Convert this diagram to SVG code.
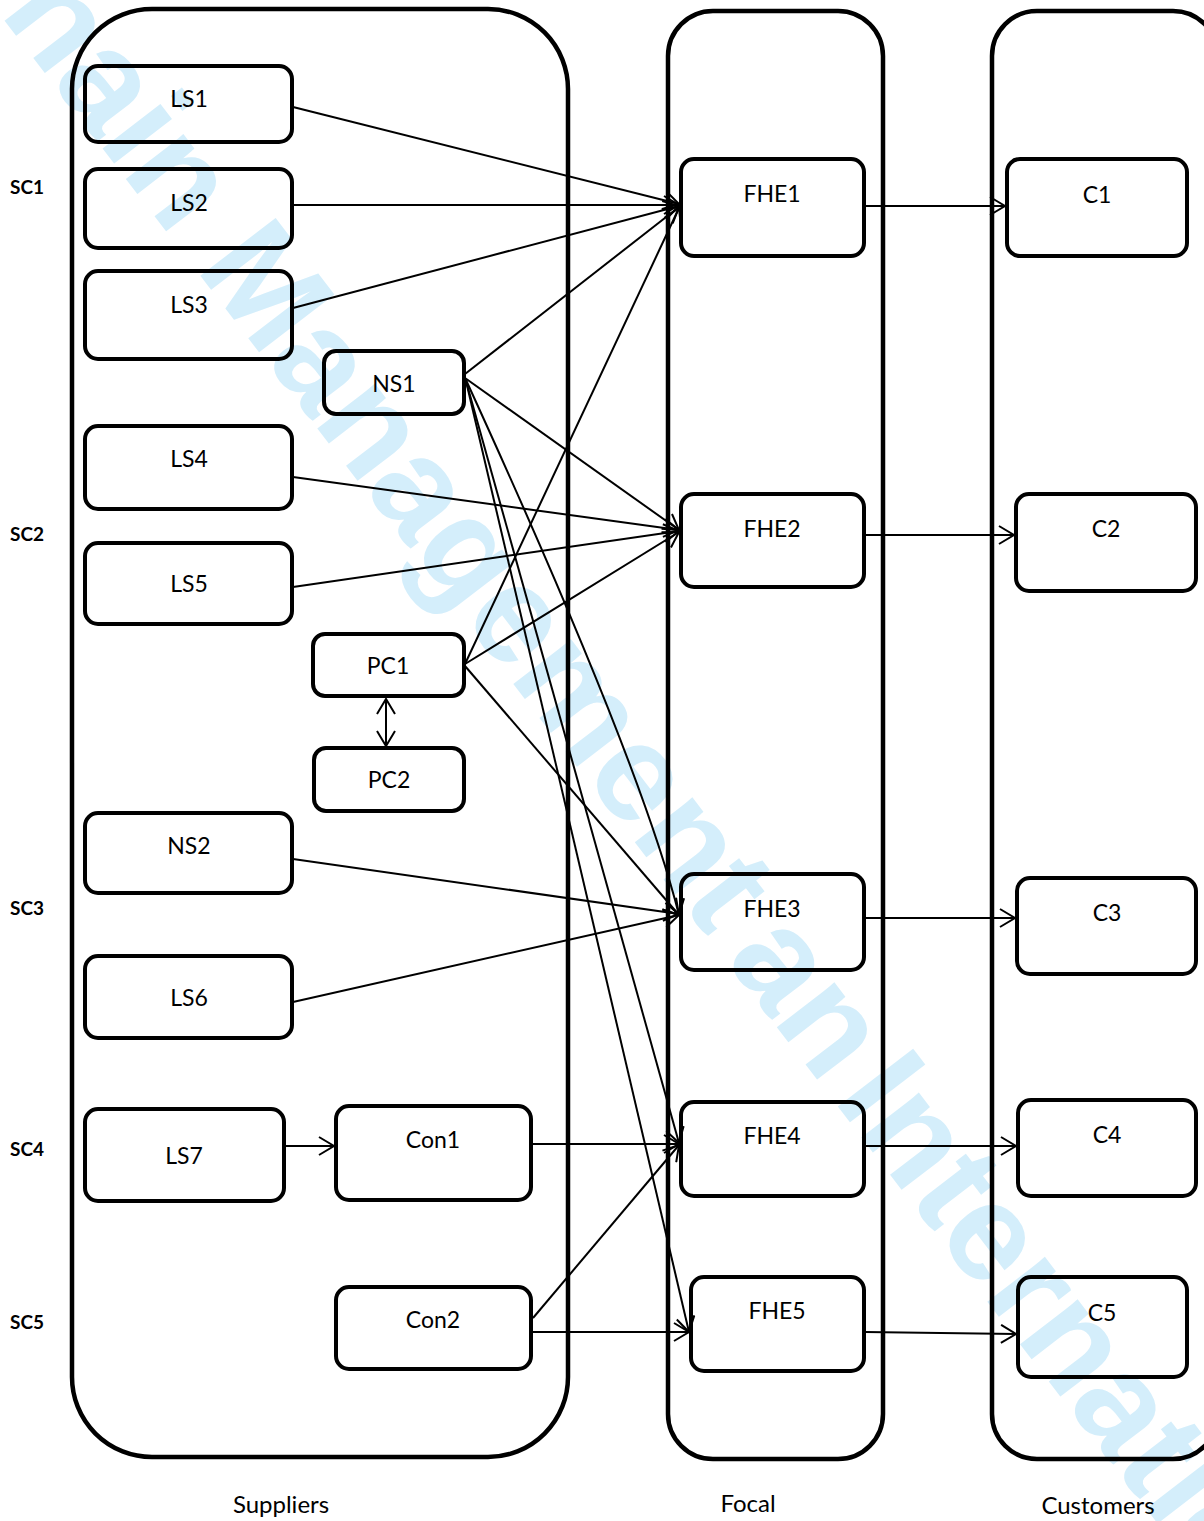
<svg xmlns="http://www.w3.org/2000/svg" width="1204" height="1521" viewBox="0 0 1204 1521">
<style>
.wm{font-family:"Liberation Sans",Arial,sans-serif;font-weight:bold;font-size:138px;fill:#d4eefb}
.cont{fill:none;stroke:#000;stroke-width:4.5}
.box{fill:none;stroke:#000;stroke-width:4}
.lbl{font-family:Lato,"Open Sans",sans-serif;font-size:23px;fill:#000;text-anchor:middle}
.sc{font-family:Lato,"Open Sans",sans-serif;font-size:19px;font-weight:bold;fill:#000}
.ttl{font-family:Lato,"Open Sans",sans-serif;font-size:24px;fill:#000;text-anchor:middle}
.ln{fill:none;stroke:#000;stroke-width:2;marker-end:url(#arr)}
</style>
<defs>
<marker id="arr" viewBox="0 0 18 20" refX="16" refY="10" markerWidth="18" markerHeight="20" markerUnits="userSpaceOnUse" orient="auto-start-reverse">
<path d="M1,1 L16,10 L1,19" fill="none" stroke="#000" stroke-width="2"/>
</marker>
</defs>
<rect width="1204" height="1521" fill="#fff"/>
<g id="watermark">
<text class="wm" transform="translate(-62,-66) rotate(52.5)">Chain Management<tspan dx="-12"> an</tspan><tspan dx="-22"> International</tspan></text>
</g>
<g id="containers">
<rect id="suppliers" class="cont" x="72" y="9" width="496" height="1448" rx="80" ry="80"/>
<rect id="focal" class="cont" x="668" y="11" width="215" height="1448" rx="45" ry="45"/>
<rect id="customers" class="cont" x="992" y="11" width="226" height="1448" rx="45" ry="45"/>
</g>
<g id="connectors">
<line class="ln" x1="293" y1="107" x2="679" y2="204"/>
<line class="ln" x1="293" y1="205" x2="679" y2="205"/>
<line class="ln" x1="293" y1="308" x2="679" y2="206"/>
<line class="ln" x1="465" y1="374" x2="679" y2="207"/>
<line class="ln" x1="465" y1="664" x2="679" y2="208"/>
<line class="ln" x1="465" y1="378" x2="679" y2="530"/>
<line class="ln" x1="293" y1="477" x2="679" y2="530"/>
<line class="ln" x1="293" y1="587" x2="679" y2="531"/>
<line class="ln" x1="465" y1="664" x2="679" y2="532"/>
<path class="ln" d="M466,380 Q640,760 679,915"/>
<line class="ln" x1="465" y1="666" x2="679" y2="915"/>
<line class="ln" x1="293" y1="859" x2="679" y2="914"/>
<line class="ln" x1="293" y1="1002" x2="679" y2="915"/>
<line class="ln" x1="466" y1="381" x2="679" y2="1143"/>
<line class="ln" x1="532" y1="1144" x2="679" y2="1144"/>
<line class="ln" x1="533" y1="1318" x2="679" y2="1145"/>
<line class="ln" x1="466" y1="381" x2="689" y2="1332"/>
<line class="ln" x1="533" y1="1332" x2="689" y2="1332"/>
<line class="ln" x1="285" y1="1146" x2="334" y2="1146"/>
<line class="ln" x1="865" y1="206" x2="1005" y2="206"/>
<line class="ln" x1="865" y1="535" x2="1014" y2="535"/>
<line class="ln" x1="865" y1="918" x2="1015" y2="918"/>
<line class="ln" x1="865" y1="1146" x2="1016" y2="1146"/>
<line class="ln" x1="865" y1="1332" x2="1016" y2="1334"/>
<line class="ln" style="marker-start:url(#arr)" x1="386" y1="699" x2="386" y2="746"/>
</g>
<g id="LS1"><rect class="box" x="85" y="66" width="207" height="76" rx="13"/><text class="lbl" x="189" y="107">LS1</text></g>
<g id="LS2"><rect class="box" x="85" y="169" width="207" height="79" rx="13"/><text class="lbl" x="189" y="211">LS2</text></g>
<g id="LS3"><rect class="box" x="85" y="271" width="207" height="88" rx="13"/><text class="lbl" x="189" y="313">LS3</text></g>
<g id="NS1"><rect class="box" x="324" y="351" width="140" height="63" rx="12"/><text class="lbl" x="394" y="392">NS1</text></g>
<g id="LS4"><rect class="box" x="85" y="426" width="207" height="83" rx="13"/><text class="lbl" x="189" y="467">LS4</text></g>
<g id="LS5"><rect class="box" x="85" y="543" width="207" height="81" rx="13"/><text class="lbl" x="189" y="592">LS5</text></g>
<g id="PC1"><rect class="box" x="313" y="634" width="151" height="62" rx="12"/><text class="lbl" x="388" y="674">PC1</text></g>
<g id="PC2"><rect class="box" x="314" y="748" width="150" height="63" rx="12"/><text class="lbl" x="389" y="788">PC2</text></g>
<g id="NS2"><rect class="box" x="85" y="813" width="207" height="80" rx="13"/><text class="lbl" x="189" y="854">NS2</text></g>
<g id="LS6"><rect class="box" x="85" y="956" width="207" height="82" rx="13"/><text class="lbl" x="189" y="1006">LS6</text></g>
<g id="LS7"><rect class="box" x="85" y="1109" width="199" height="92" rx="13"/><text class="lbl" x="184" y="1164">LS7</text></g>
<g id="Con1"><rect class="box" x="336" y="1106" width="195" height="94" rx="13"/><text class="lbl" x="433" y="1148">Con1</text></g>
<g id="Con2"><rect class="box" x="336" y="1287" width="195" height="82" rx="13"/><text class="lbl" x="433" y="1328">Con2</text></g>
<g id="FHE1"><rect class="box" x="681" y="159" width="183" height="97" rx="13"/><text class="lbl" x="772" y="202">FHE1</text></g>
<g id="FHE2"><rect class="box" x="681" y="494" width="183" height="93" rx="13"/><text class="lbl" x="772" y="537">FHE2</text></g>
<g id="FHE3"><rect class="box" x="681" y="874" width="183" height="96" rx="13"/><text class="lbl" x="772" y="917">FHE3</text></g>
<g id="FHE4"><rect class="box" x="681" y="1102" width="183" height="94" rx="13"/><text class="lbl" x="772" y="1144">FHE4</text></g>
<g id="FHE5"><rect class="box" x="691" y="1277" width="173" height="94" rx="13"/><text class="lbl" x="777" y="1319">FHE5</text></g>
<g id="C1"><rect class="box" x="1007" y="159" width="180" height="97" rx="13"/><text class="lbl" x="1097" y="203">C1</text></g>
<g id="C2"><rect class="box" x="1016" y="494" width="180" height="97" rx="13"/><text class="lbl" x="1106" y="537">C2</text></g>
<g id="C3"><rect class="box" x="1017" y="878" width="179" height="96" rx="13"/><text class="lbl" x="1107" y="921">C3</text></g>
<g id="C4"><rect class="box" x="1018" y="1100" width="178" height="96" rx="13"/><text class="lbl" x="1107" y="1143">C4</text></g>
<g id="C5"><rect class="box" x="1018" y="1277" width="169" height="100" rx="13"/><text class="lbl" x="1102" y="1321">C5</text></g>
<g id="labels">
<text class="sc" x="10" y="194">SC1</text>
<text class="sc" x="10" y="541">SC2</text>
<text class="sc" x="10" y="915">SC3</text>
<text class="sc" x="10" y="1156">SC4</text>
<text class="sc" x="10" y="1329">SC5</text>
<text class="ttl" x="281" y="1513">Suppliers</text>
<text class="ttl" x="748" y="1512">Focal</text>
<text class="ttl" x="1098" y="1514">Customers</text>
</g>
</svg>
